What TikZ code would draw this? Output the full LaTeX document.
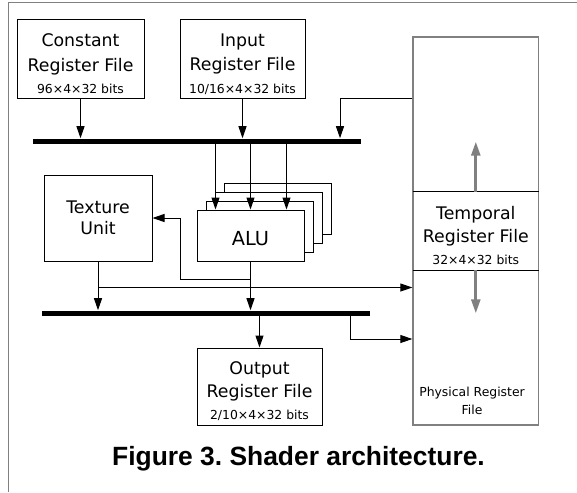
\documentclass[tikz,border=0pt]{standalone}
\usepackage{fontspec}
\setmainfont{DejaVu Sans}
\newfontfamily\captionfont{Liberation Sans}
\usetikzlibrary{arrows.meta,calc}

\definecolor{framegray}{gray}{0.5}
\newcommand{\px}{0.75pt}
\newcommand{\boxfont}{\fontsize{13}{18.2}\selectfont}
\newcommand{\bitsfont}{\fontsize{9.3}{11}\selectfont}
\newcommand{\alufont}{\fontsize{14.5}{17}\selectfont}
\newcommand{\topstrut}{\rule{0pt}{17pt}}

\begin{document}
\begin{tikzpicture}[x=0.75pt, y=-0.75pt,
    regbox/.style={draw, line width=0.75pt, fill=white, inner sep=0pt, align=center, font=\boxfont},
    alubox/.style={regbox, minimum width=107*\px, minimum height=51*\px},
    bus/.style={fill=black, inner sep=0pt, minimum width=328*\px, minimum height=5*\px},
    link/.style={line width=0.75pt, -{Triangle[length=9pt, width=6pt]}},
    spill/.style={line width=2pt, draw=framegray, -{Triangle[length=10.5pt, width=6.75pt]}},
]
\useasboundingbox (0,0) rectangle (577,492);

% frame
\draw[framegray, line width=1.1pt] (8.5,492) -- (8.5,2.5) -- (577,2.5);

% register files on top
\node[regbox, minimum width=127*\px, minimum height=78*\px] (const) at (80.5,59)
    {\topstrut Constant\\Register File\\[-1.5pt]{\bitsfont 96×4×32 bits}};
\node[regbox, minimum width=125*\px, minimum height=78*\px] (input) at (242.5,59)
    {\topstrut Input\\Register File\\[-1.5pt]{\bitsfont 10/16×4×32 bits}};

% physical register file with the temporal window
\node[draw=framegray, line width=0.9pt, minimum width=125.7*\px, minimum height=388*\px] (physical) at (475.8,231) {};
\node[inner sep=0pt, align=center, font=\boxfont, minimum width=125.7*\px, minimum height=78*\px] (temporal) at (physical.center)
    {\topstrut Temporal\\[-1.4pt]Register File\\[-1.4pt]{\bitsfont 32×4×32 bits}};
\draw[line width=0.75pt] (temporal.north west) -- (temporal.north east)
    (temporal.south west) -- (temporal.south east);
\node[font=\bitsfont, align=center, anchor=north, inner sep=0pt] (physlbl) at (472,387) {Physical Register\\[2pt]File};
\coordinate (winup) at ($(temporal.north)+(0,-50)$);
\coordinate (windown) at ($(temporal.south)+(0,43)$);
\draw[spill] (temporal.north) -- (winup);
\draw[spill] (temporal.south) -- (windown);

% buses
\node[bus] (bus1) at (197,141) {};
\node[bus] (bus2) at (206,313) {};

% texture unit and ALU stack
\node[regbox, minimum width=108*\px, minimum height=86*\px] (texture) at (98,218) {Texture\\[-2.4pt]Unit};
\foreach \k in {3,2,1}
    \node[alubox] (alu\k) at ($(250.5,235.5)+(\k*9,-\k*8.7)$) {};
\node[alubox, font=\alufont, text height=15pt, text depth=0pt] (alu) at (250.5,235.5) {ALU};

\node[regbox, minimum width=125*\px, minimum height=77*\px] (output) at (259.5,386.5)
    {\topstrut Output\\[-1.2pt]Register File\\[-1.2pt]{\bitsfont 2/10×4×32 bits}};

% inputs to the first bus
\draw[link] (const.south) -- (const.south |- bus1.north);
\draw[link] (input.south) -- (input.south |- bus1.north);
\coordinate (regtap) at (340,98);
\draw[link] (regtap -| physical.west) -- (regtap) -- (regtap |- bus1.north);

% bus to ALUs
\foreach \dx in {-35,0,36} {
    \coordinate (aluin) at ($(alu.north)+(\dx,0)$);
    \draw[link] (aluin |- bus1.south) -- (aluin);
}

% results to the second bus
\draw[link] (alu.south) -- (alu.south |- bus2.north);
\coordinate (alufb) at ($(alu.south)+(0,18)$);
\draw[link] (alufb) -| ($(texture.east)+(28,0)$) -- (texture.east);
\draw[link] (texture.south) -- (texture.south |- bus2.north);
\coordinate (texfw) at ($(texture.south)+(0,26)$);
\draw[link] (texfw) -- (texfw -| physical.west);

% second bus out
\draw[link] (output.north |- bus2.south) -- (output.north);
\coordinate (bustap) at (350,339);
\draw[link] (bustap |- bus2.south) -- (bustap) -- (bustap -| physical.west);

% caption
\node[font=\captionfont\bfseries\fontsize{19.8}{24}\selectfont, anchor=base] (caption) at (298.5,465) {Figure 3.\ Shader architecture.};
\end{tikzpicture}
\end{document}
